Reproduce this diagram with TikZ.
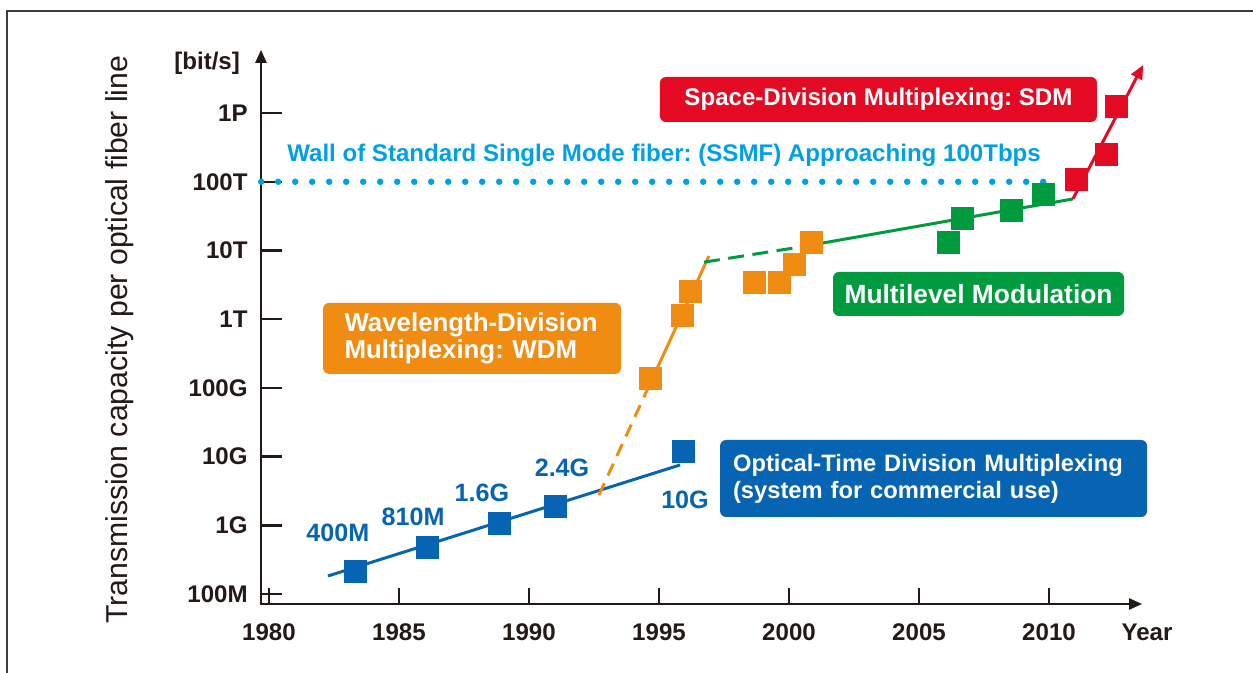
\documentclass[tikz,border=0pt]{standalone}
\usepackage{fontspec}
\setmainfont{Liberation Sans}
\usetikzlibrary{arrows.meta}

\definecolor{otdm}{RGB}{6,100,178}
\definecolor{wdm}{RGB}{240,140,18}
\definecolor{mlm}{RGB}{0,155,62}
\definecolor{sdm}{RGB}{228,10,36}
\definecolor{wall}{RGB}{0,160,230}
\definecolor{ink}{RGB}{35,25,22}

\tikzset{
  sq/.style={rectangle, fill=#1, minimum size=0.46cm, inner sep=0pt},
  tag/.style={rectangle, rounded corners=0.12cm, fill=#1, text=white},
  tick/.style={ink, line width=1.4pt},
  lbl/.style={font=\fontsize{13.7}{16}\selectfont\bfseries, text=ink, inner sep=0pt},
  val/.style={font=\fontsize{14.3}{16}\selectfont\bfseries, text=otdm, inner sep=0pt},
  trend/.style={line width=1.7pt}
}

\begin{document}
\frenchspacing
\begin{tikzpicture}[x=0.52cm, y=1.374cm]
    \useasboundingbox (-10.346,-1.150) rectangle (37.846,8.646);
    % Bingkai
    \draw[ink!85, line width=0.6pt] (37.846,8.486) -- (-10.077,8.486) -- (-10.077,-1.15);
    % Sumbu
    \coordinate (O) at (-0.308,-0.146);
    \coordinate (ytop) at (-0.308,7.92);
    \coordinate (xend) at (33.58,-0.146);
    \draw[tick, {Triangle[length=0.26cm,width=0.22cm]}-{Triangle[length=0.26cm,width=0.22cm]}] (ytop) -- (O) -- (xend);
    \foreach \y/\t in {0/100M,1/1G,2/10G,3/100G,4/1T,5/10T,6/100T,7/1P} {
        \draw[tick] (-0.308,\y) -- (0.5,\y);
        \node[lbl, anchor=east] (y\y) at (-0.81,\y) {\t};
    }
    \foreach \x/\t in {0/1980,5/1985,10/1990,15/1995,20/2000,25/2005,30/2010} {
        \draw[tick] (\x,-0.146) -- (\x,0.087);
        \node[lbl] (x\x) at (\x,-0.553) {\t};
    }
    \node[lbl] (year) at (33.77,-0.553) {Year};
    \node[lbl] (unit) at (-2.38,7.73) {[bit/s]};
    \node[rotate=90, font=\fontsize{17.2}{20}\selectfont, text=ink] (ytitle) at (-5.75,3.70) {Transmission capacity per optical fiber line};

    % Batas SSMF
    \coordinate (w0) at (-0.3,6);
    \coordinate (w1) at (30.4,6);
    \draw[wall, line width=0.13cm, line cap=round, dash pattern=on 0pt off 0.34cm] (w0) -- (w1);
    \node[lbl, text=wall, anchor=west] (walltxt) at (0.69,6.39) {Wall of Standard Single Mode fiber: (SSMF) Approaching 100Tbps};

    % Garis tren
    \coordinate (b0) at (2.27,0.262);
    \coordinate (b1) at (15.81,1.878);
    \draw[trend, otdm] (b0) -- (b1);
    \coordinate (o0) at (12.69,1.44);
    \coordinate (o1) at (14.46,2.90);
    \coordinate (o2) at (16.92,4.92);
    \draw[trend, wdm, dash pattern=on 0.26cm off 0.17cm] (o0) -- (o1);
    \draw[trend, wdm] (o1) -- (o2);
    \coordinate (g0) at (16.73,4.83);
    \coordinate (g1) at (20.42,5.05);
    \coordinate (g2) at (30.92,5.75);
    \coordinate (r1) at (33.62,7.70);
    \draw[trend, mlm, dash pattern=on 0.32cm off 0.17cm] (g0) -- (g1);
    \draw[trend, mlm] (g1) -- (g2);
    \draw[trend, sdm, -{Triangle[length=0.28cm,width=0.24cm]}] (g2) -- (r1);

    % Titik data
    \node[sq=otdm] (sb1) at (3.31,0.327) {};
    \node[sq=otdm] (sb2) at (6.08,0.67) {};
    \node[sq=otdm] (sb3) at (8.85,1.03) {};
    \node[sq=otdm] (sb4) at (11.0,1.27) {};
    \node[sq=otdm] (sb5) at (15.96,2.07) {};
    \node[sq=wdm] (sw1) at (14.69,3.13) {};
    \node[sq=wdm] (sw2) at (15.92,4.06) {};
    \node[sq=wdm] (sw3) at (16.23,4.41) {};
    \node[sq=wdm] (sw4) at (18.69,4.53) {};
    \node[sq=wdm] (sw5) at (19.62,4.53) {};
    \node[sq=wdm] (sw6) at (20.23,4.79) {};
    \node[sq=wdm] (sw7) at (20.85,5.11) {};
    \node[sq=mlm] (sg1) at (26.12,5.12) {};
    \node[sq=mlm] (sg2) at (26.69,5.47) {};
    \node[sq=mlm] (sg3) at (28.54,5.58) {};
    \node[sq=mlm] (sg4) at (29.77,5.82) {};
    \node[sq=sdm] (sr1) at (31.04,6.04) {};
    \node[sq=sdm] (sr2) at (32.23,6.40) {};
    \node[sq=sdm] (sr3) at (32.58,7.09) {};

    % Label kapasitas
    \node[val] (v1) at (2.65,0.888) {400M};
    \node[val] (v2) at (5.54,1.12) {810M};
    \node[val] (v3) at (8.19,1.47) {1.6G};
    \node[val] (v4) at (11.27,1.83) {2.4G};
    \node[val] (v5) at (16.0,1.37) {10G};

    % Kotak teknologi
    \node[tag=sdm, minimum width=8.74cm, minimum height=0.9cm, font=\fontsize{13.7}{16}\selectfont\bfseries] (sdmbox) at (23.44,7.198) {Space-Division Multiplexing: SDM};
    \node[tag=wdm, text width=5.1cm, inner xsep=0.43cm, minimum height=1.42cm, align=left, font=\fontsize{14.7}{15.3}\selectfont\bfseries] (wdmbox) at (7.81,3.72) {Wavelength-Division\\Multiplexing: WDM};
    \node[tag=mlm, minimum width=5.82cm, minimum height=0.88cm, font=\fontsize{15}{16}\selectfont\bfseries] (mlmbox) at (27.29,4.367) {Multilevel Modulation};
    \node[tag=otdm, text width=8.02cm, inner xsep=0.26cm, minimum height=1.54cm, align=left, font=\fontsize{13.5}{15.3}\selectfont\bfseries] (otdmbox) at (25.56,1.681) {Optical-Time Division Multiplexing\\(system for commercial use)};
\end{tikzpicture}
\end{document}
